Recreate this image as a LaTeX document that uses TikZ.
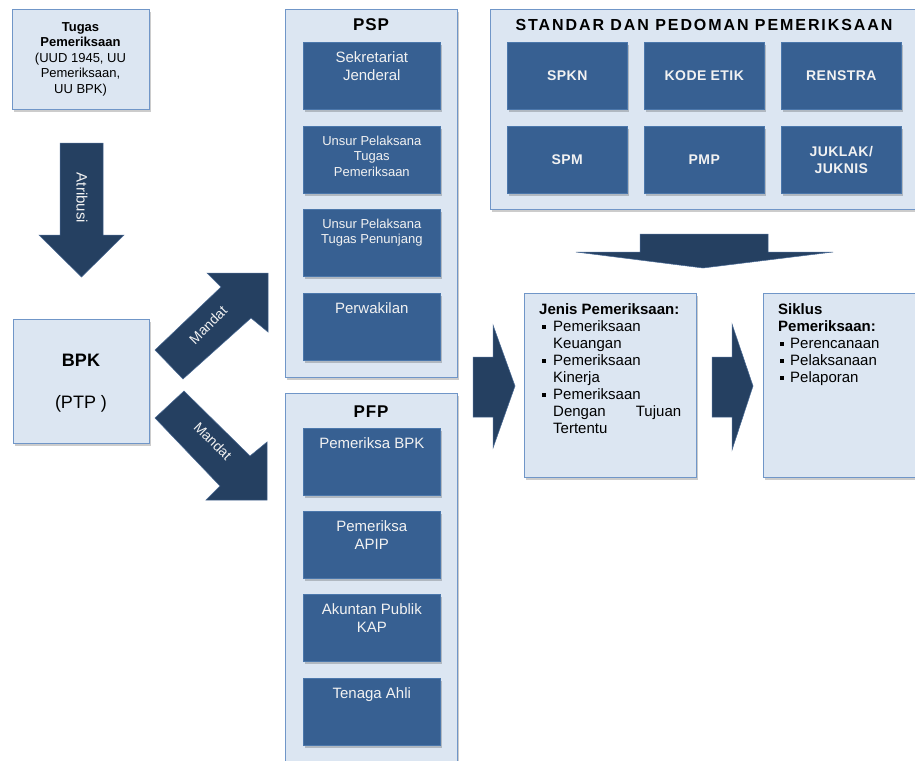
\documentclass[tikz,border=0pt]{standalone}
\usepackage{fontspec}
\setmainfont{Liberation Sans}
\usetikzlibrary{shadows}
\definecolor{lightfill}{HTML}{DCE6F2}
\definecolor{lightborder}{HTML}{7096C8}
\definecolor{darkfill}{HTML}{376092}
\definecolor{darkborder}{HTML}{4B77AB}
\definecolor{arrowfill}{HTML}{254061}
\definecolor{arrowedge}{HTML}{4A6A94}
\definecolor{softwhite}{HTML}{F2F2F2}
\newcommand{\fsz}[2]{\fontsize{#1}{#2}\selectfont}
\newcommand{\bulJ}{\hspace*{3pt}\rule[2.8pt]{4pt}{4pt}\hspace*{7pt}}
\newcommand{\contJ}{\hspace*{14pt}}
\newcommand{\bulS}{\hspace*{2pt}\rule[2.8pt]{4pt}{4pt}\hspace*{6pt}}
\tikzset{
  myshadow/.style={drop shadow={shadow xshift=1.5pt, shadow yshift=-2.5pt, opacity=0.2, fill=black}},
  outerbox/.style={draw=lightborder, fill=lightfill, line width=0.8pt, anchor=north west, inner sep=0pt, myshadow},
  darkbox/.style={draw=darkborder, fill=darkfill, line width=0.6pt, anchor=north west, inner sep=0pt,
    minimum width=137pt, minimum height=67pt, myshadow},
  stdbox/.style={darkbox, minimum width=120pt, minimum height=67pt},
  darktext/.style={text=softwhite, align=center, inner sep=0pt, anchor=north, font=\fsz{15}{18}},
  smalltext/.style={darktext, font=\fsz{13}{15.5}},
  stdtext/.style={text=softwhite, align=center, inner sep=0pt, font=\fsz{14}{17}\bfseries\addfontfeature{LetterSpace=3}},
  blockarrow/.style={fill=arrowfill, draw=arrowedge, line width=0.5pt, line join=miter},
  arrowlabel/.style={text=softwhite, font=\fsz{14}{16}, inner sep=0pt},
  listtext/.style={align=left, inner sep=0pt, anchor=north west, font=\fsz{15}{17}},
  titletext/.style={inner sep=0pt, font=\fsz{17}{20}\bfseries\addfontfeature{LetterSpace=5}}
}
\begin{document}
\begin{tikzpicture}[x=1pt, y=-1pt]
\useasboundingbox (0,0) rectangle (915,760);
\clip (0,0) rectangle (915,760);
\fill[white] (0,0) rectangle (915,760);

% Tugas box
\node[outerbox, minimum width=137pt, minimum height=100pt] (tugas) at (12,9) {};
\node[align=center, inner sep=0pt, font=\fsz{13}{15.5}] (tugastext) at (80.5,59)
  {\textbf{Tugas}\\\textbf{Pemeriksaan}\\(UUD 1945, UU\\Pemeriksaan,\\UU BPK)};

% Atribusi arrow
\draw[blockarrow] (60,143) -- (103,143) -- (103,235) -- (124,235) -- (81.5,277) -- (39,235) -- (60,235) -- cycle;
\node[arrowlabel, rotate=-90, font=\fsz{15}{17}] (atribusi) at (82,198) {Atribusi};

% BPK box
\node[outerbox, minimum width=136pt, minimum height=124pt] (bpk) at (13,319) {};
\node[inner sep=0pt, font=\fsz{18}{20}\bfseries] (bpktitle) at (81,360) {BPK};
\node[inner sep=0pt, font=\fsz{18}{20}] (ptp) at (81,404) {(PTP )};

% Mandat arrows
\draw[blockarrow] (155,350) -- (221,287) -- (207,273) -- (268,273) -- (268,332) -- (251,318) -- (183,379) -- cycle;
\node[arrowlabel, rotate=45] (mandat1) at (208,325) {Mandat};
\draw[blockarrow] (155,418) -- (184,391) -- (250,456) -- (267,442) -- (267,500) -- (206,500) -- (220,486) -- cycle;
\node[arrowlabel, rotate=-45] (mandat2) at (213,441) {Mandat};

% PSP
\node[outerbox, minimum width=172pt, minimum height=368pt] (psp) at (285,9) {};
\node[titletext] (psptitle) at (371,25) {PSP};
\node[darkbox] (sj) at (303,42) {};
\node[darktext] (sjt) at ([yshift=-9.5pt]sj.north) {Sekretariat\\Jenderal};
\node[darkbox] (uptp) at (303,126) {};
\node[smalltext] (uptpt) at ([yshift=-9.5pt]uptp.north) {Unsur Pelaksana\\Tugas\\Pemeriksaan};
\node[darkbox] (uptn) at (303,209) {};
\node[smalltext] (uptnt) at ([yshift=-9.5pt]uptn.north) {Unsur Pelaksana\\Tugas Penunjang};
\node[darkbox] (perw) at (303,293) {};
\node[darktext] (perwt) at ([yshift=-9.5pt]perw.north) {Perwakilan};

% PFP
\node[outerbox, minimum width=172pt, minimum height=390pt] (pfp) at (285,393) {};
\node[titletext] (pfptitle) at (371,412) {PFP};
\node[darkbox] (pbpk) at (303,428) {};
\node[darktext] (pbpkt) at ([yshift=-9.5pt]pbpk.north) {Pemeriksa BPK};
\node[darkbox] (papip) at (303,511) {};
\node[darktext] (papipt) at ([yshift=-9.5pt]papip.north) {Pemeriksa\\APIP};
\node[darkbox] (kap) at (303,594) {};
\node[darktext] (kapt) at ([yshift=-9.5pt]kap.north) {Akuntan Publik\\KAP};
\node[darkbox] (ahli) at (303,678) {};
\node[darktext] (ahlit) at ([yshift=-9.5pt]ahli.north) {Tenaga Ahli};

% Standar
\node[outerbox, minimum width=440pt, minimum height=200pt] (std) at (490,9) {};
\node[inner sep=0pt, font=\fsz{16}{19}\bfseries\addfontfeature{LetterSpace=12}] (stdtitle) at (704,25) {STANDAR DAN PEDOMAN PEMERIKSAAN};
\node[stdbox] (spkn) at (507,42) {};
\node[stdtext] at (spkn.center) {SPKN};
\node[stdbox] (kode) at (644,42) {};
\node[stdtext] at (kode.center) {KODE ETIK};
\node[stdbox] (renstra) at (781,42) {};
\node[stdtext] at (renstra.center) {RENSTRA};
\node[stdbox] (spm) at (507,126) {};
\node[stdtext] at (spm.center) {SPM};
\node[stdbox] (pmp) at (644,126) {};
\node[stdtext] at (pmp.center) {PMP};
\node[stdbox] (juklak) at (781,126) {};
\node[stdtext] at (juklak.center) {JUKLAK/\\JUKNIS};

% Wide down arrow
\draw[blockarrow] (640,234) -- (768,234) -- (768,252) -- (833,252) -- (703,268) -- (576,252) -- (640,252) -- cycle;

% Right arrows
\draw[blockarrow] (473,357) -- (493,357) -- (493,325) -- (515,386) -- (493,448) -- (493,417) -- (473,417) -- cycle;
\draw[blockarrow] (712,357) -- (732,357) -- (732,324) -- (753,386) -- (732,450) -- (732,417) -- (712,417) -- cycle;

% Jenis box
\node[outerbox, minimum width=172pt, minimum height=184pt] (jenis) at (524,293) {};
\node[listtext] (jenistext) at (539,303.5)
  {\textbf{Jenis Pemeriksaan:}\\
   \bulJ Pemeriksaan\\
   \contJ Keuangan\\
   \bulJ Pemeriksaan\\
   \contJ Kinerja\\
   \bulJ Pemeriksaan\\
   \contJ\hbox to 128pt{Dengan\hfill Tujuan}\\
   \contJ Tertentu};

% Siklus box
\node[outerbox, minimum width=170pt, minimum height=184pt] (siklus) at (763,293) {};
\node[listtext] (siklustext) at (778,303.5)
  {\textbf{Siklus}\\
   \textbf{Pemeriksaan:}\\
   \bulS Perencanaan\\
   \bulS Pelaksanaan\\
   \bulS Pelaporan};
\end{tikzpicture}
\end{document}
